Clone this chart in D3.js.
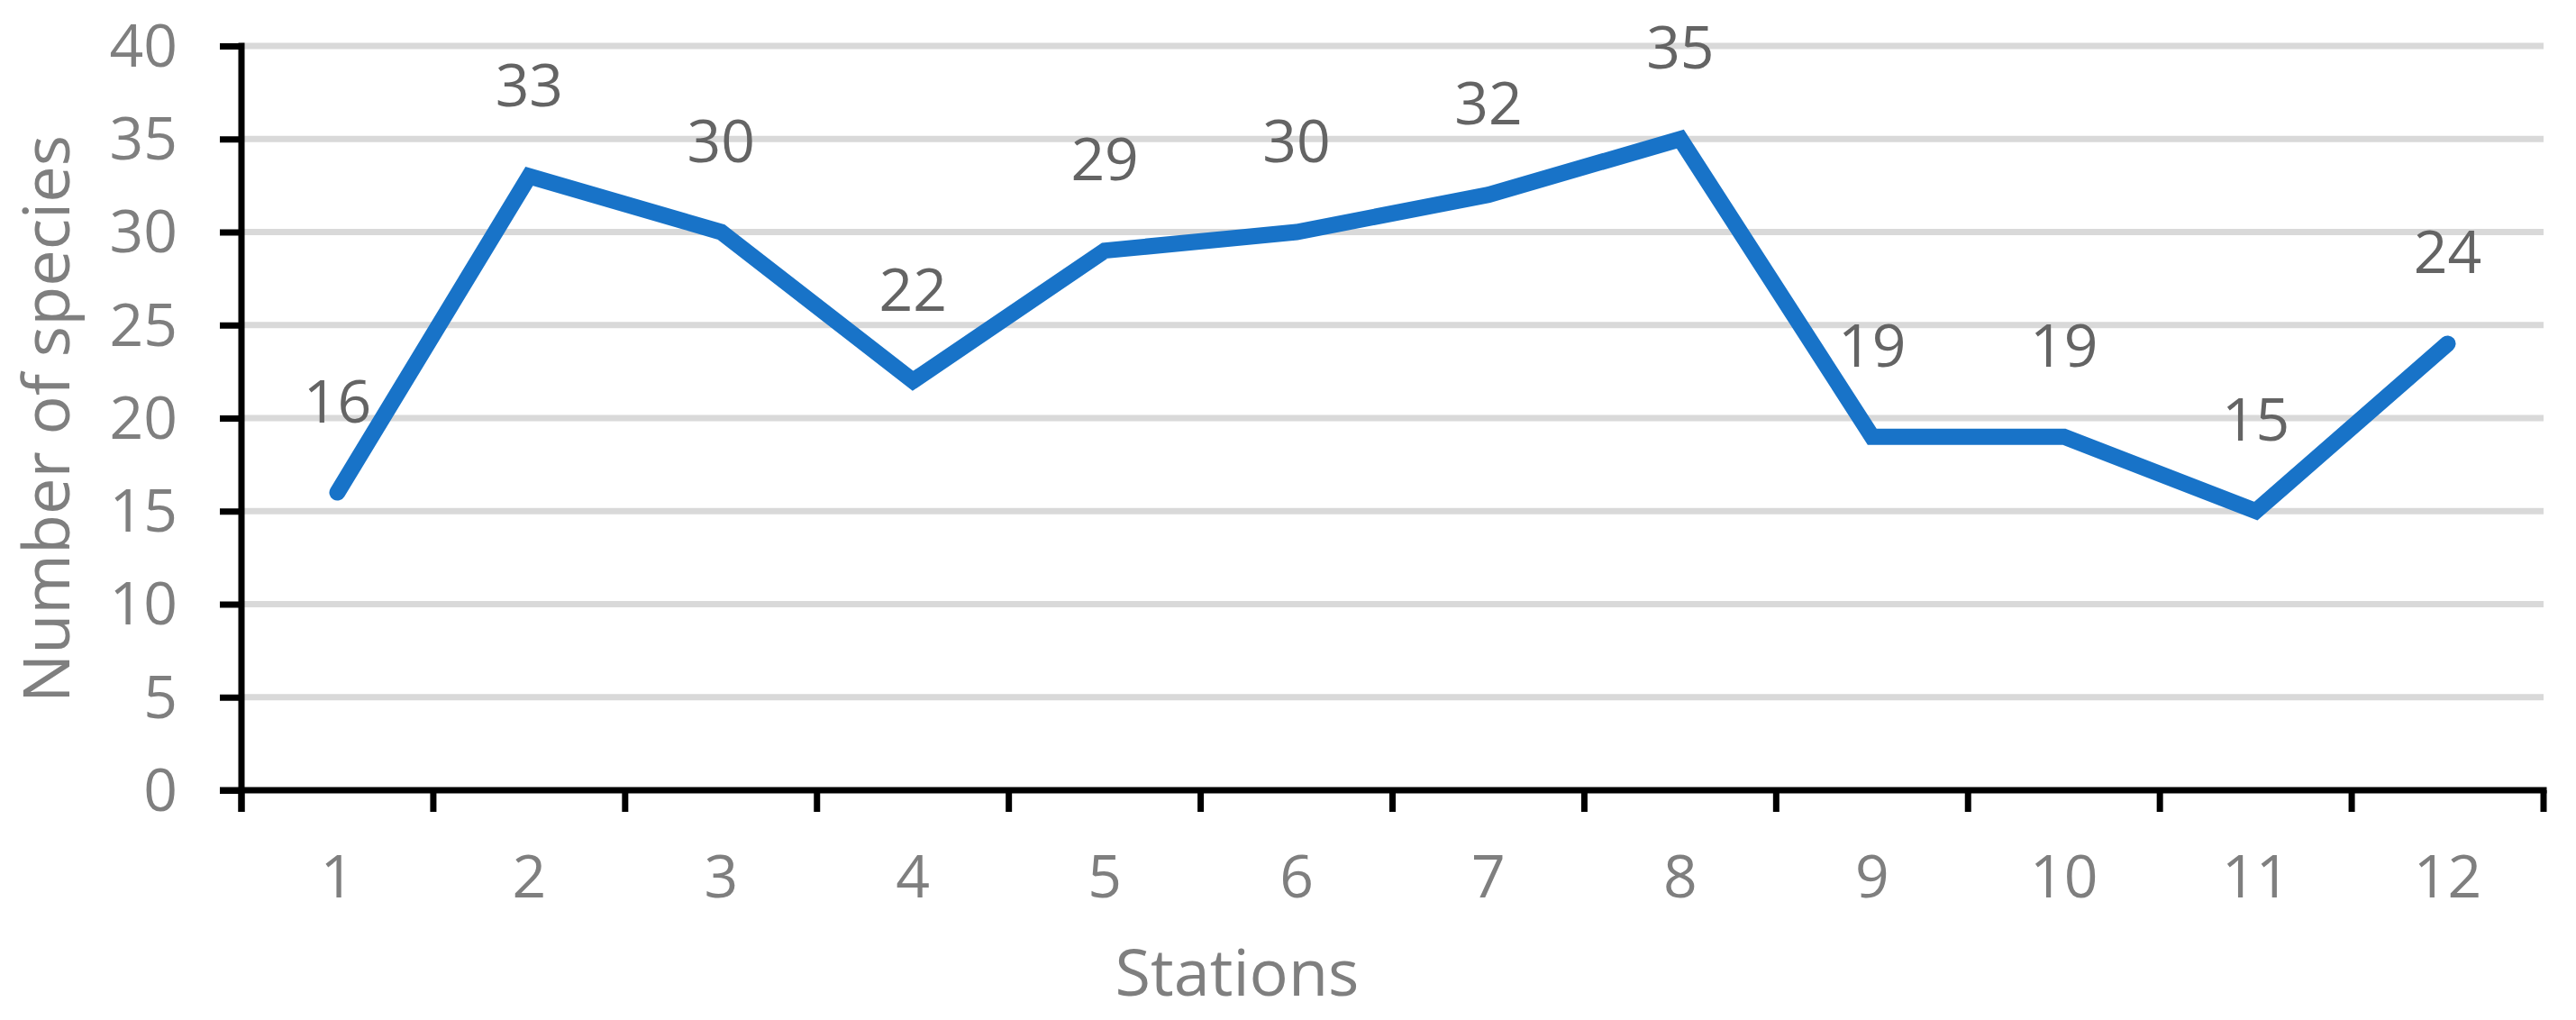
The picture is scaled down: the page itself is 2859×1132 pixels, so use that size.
<!DOCTYPE html>
<html>
<head>
<meta charset="utf-8">
<script src="https://cdn.jsdelivr.net/npm/d3@7"></script>
<style>
  html, body { margin: 0; padding: 0; background: #ffffff; }
  svg { display: block; }
</style>
</head>
<body>
<svg id="chart" width="2859" height="1132"></svg>
<script>
// ---- data ----
const stations = ["1","2","3","4","5","6","7","8","9","10","11","12"];
const species = [16, 33, 30, 22, 29, 30, 32, 35, 19, 19, 15, 24];
const yTicks = [0, 5, 10, 15, 20, 25, 30, 35, 40];
const xTitle = "Stations";
const yTitle = "Number of species";

(function () {
// ---- layout ----
const plotL = 268, plotR = 2823, plotT = 51, plotB = 877;
const fontFam = "'Open Sans', 'Liberation Sans', sans-serif";
const tickColor = "#7f7f7f";
const labelColor = "#646464";
const lineColor = "#1873c8";

const svg = d3.select("#chart");

const x = d3.scaleBand().domain(stations).range([plotL, plotR]).padding(0);
const y = d3.scaleLinear().domain([0, 40]).range([plotB, plotT]);

// gridlines
svg.append("g").selectAll("line")
  .data(yTicks.filter(d => d > 0))
  .join("line")
  .attr("x1", plotL).attr("x2", plotR)
  .attr("y1", d => y(d)).attr("y2", d => y(d))
  .attr("stroke", "#d9d9d9").attr("stroke-width", 7);

// y axis
const yAxis = d3.axisLeft(y).tickValues(yTicks).tickSize(24).tickSizeOuter(0).tickPadding(47);
const gy = svg.append("g").attr("transform", `translate(${plotL},0)`).call(yAxis);
gy.select(".domain").remove();
gy.selectAll(".tick line").attr("stroke", "#000").attr("stroke-width", 7);
gy.selectAll(".tick text")
  .attr("fill", tickColor).attr("font-family", fontFam).attr("font-size", 66)
  .attr("dy", "0.34em");

// x axis labels
const xAxis = d3.axisBottom(x).tickSize(0).tickPadding(72);
const gx = svg.append("g").attr("transform", `translate(0,${plotB})`).call(xAxis);
gx.select(".domain").remove();
gx.selectAll(".tick text")
  .attr("fill", tickColor).attr("font-family", fontFam).attr("font-size", 66);

// x boundary ticks
const bounds = stations.map(s => x(s)).concat([x.range()[1]]);
svg.append("g").selectAll("line")
  .data(bounds)
  .join("line")
  .attr("x1", d => d).attr("x2", d => d)
  .attr("y1", plotB).attr("y2", plotB + 24)
  .attr("stroke", "#000").attr("stroke-width", 7);

// axis lines
svg.append("line")
  .attr("x1", plotL).attr("x2", plotL)
  .attr("y1", plotT - 3.5).attr("y2", plotB + 24)
  .attr("stroke", "#000").attr("stroke-width", 7);
svg.append("line")
  .attr("x1", plotL - 24).attr("x2", plotR + 3.5)
  .attr("y1", plotB).attr("y2", plotB)
  .attr("stroke", "#000").attr("stroke-width", 7);

// data line
const cx = s => x(s) + x.bandwidth() / 2;
const line = d3.line()
  .x((d, i) => cx(stations[i]))
  .y(d => y(d));
svg.append("path")
  .datum(species)
  .attr("d", line)
  .attr("fill", "none")
  .attr("stroke", lineColor)
  .attr("stroke-width", 18)
  .attr("stroke-linejoin", "miter")
  .attr("stroke-linecap", "round");

// data labels
svg.append("g").selectAll("text")
  .data(species)
  .join("text")
  .attr("x", (d, i) => cx(stations[i]))
  .attr("y", d => y(d) - 78)
  .attr("text-anchor", "middle")
  .attr("fill", labelColor)
  .attr("font-family", fontFam)
  .attr("font-size", 66)
  .text(d => d);

// axis titles
svg.append("text")
  .attr("x", 1373).attr("y", 1105)
  .attr("text-anchor", "middle")
  .attr("fill", tickColor)
  .attr("font-family", fontFam)
  .attr("font-size", 72)
  .text(xTitle);

svg.append("text")
  .attr("transform", "translate(77,465) rotate(-90)")
  .attr("text-anchor", "middle")
  .attr("fill", tickColor)
  .attr("font-family", fontFam)
  .attr("font-size", 72)
  .text(yTitle);
})();
</script>
</body>
</html>
